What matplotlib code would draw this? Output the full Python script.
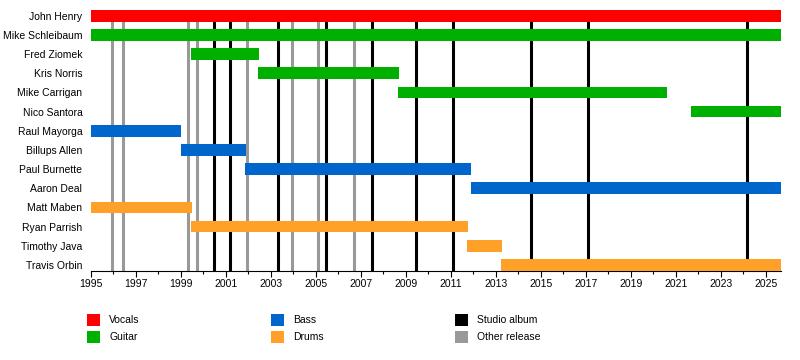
import matplotlib
matplotlib.use("Agg")
import matplotlib.pyplot as plt
from matplotlib.patches import Rectangle

plt.rcParams['font.family'] = ['Liberation Sans', 'DejaVu Sans']

members = ["John Henry", "Mike Schleibaum", "Fred Ziomek", "Kris Norris",
           "Mike Carrigan", "Nico Santora", "Raul Mayorga", "Billups Allen",
           "Paul Burnette", "Aaron Deal", "Matt Maben", "Ryan Parrish",
           "Timothy Java", "Travis Orbin"]
starts = [1995.0, 1995.0, 1999.46, 2002.45, 2008.67, 2021.68, 1995.0, 1999.0,
          2001.86, 2011.9, 1995.0, 1999.46, 2011.73, 2013.24]
END = 2025.68
ends = [END, END, 2002.48, 2008.7, 2020.6, END, 1999.0, 2001.9,
        2011.9, END, 1999.5, 2011.77, 2013.28, END]
roles = ["Vocals", "Guitar", "Guitar", "Guitar", "Guitar", "Guitar", "Bass", "Bass",
         "Bass", "Bass", "Drums", "Drums", "Drums", "Drums"]

studio_albums = [2000.49, 2001.2, 2003.34, 2005.47, 2007.52, 2009.46,
                 2011.12, 2014.58, 2017.12, 2024.16]
other_releases = [1995.96, 1996.45, 1999.34, 1999.71, 2001.96, 2003.96,
                  2005.12, 2006.72]

role_colors = {"Vocals": "#FF0000", "Guitar": "#00B000",
               "Bass": "#0066CC", "Drums": "#FFA028"}
line_colors = {"Studio album": "#000000", "Other release": "#999999"}

fig = plt.figure(figsize=(8, 3.6), dpi=100)
W, H = 800, 360
ax = fig.add_axes([90.7 / W, 1 - 270.7 / H, (781 - 90.7) / W, (270.7 - 10) / H])

bar_h = 0.61
for i, (s, e, r) in enumerate(zip(starts, ends, roles)):
    ax.barh(i, e - s, left=s, height=bar_h, color=role_colors[r], zorder=3)

for x in other_releases:
    ax.axvline(x, color=line_colors["Other release"], lw=2.2, zorder=1)
for x in studio_albums:
    ax.axvline(x, color=line_colors["Studio album"], lw=2.2, zorder=2)

ax.set_xlim(1995, END)
ax.set_ylim(len(members) - 1 + bar_h / 2, -bar_h / 2)
ax.set_yticks(range(len(members)))
ax.set_yticklabels(members, fontsize=7.5)
ax.tick_params(axis='y', length=0, pad=6)

ax.set_xticks(range(1995, 2026, 2))
ax.set_xticks(range(1995, 2026, 1), minor=True)
ax.set_xticklabels([str(y) for y in range(1995, 2026, 2)], fontsize=7.5)
ax.tick_params(axis='x', which='major', length=4, width=0.8, pad=2)
ax.tick_params(axis='x', which='minor', length=2.5, width=0.8)

for sp in ["top", "right", "left"]:
    ax.spines[sp].set_visible(False)
ax.spines["bottom"].set_linewidth(0.8)

# legend
legend_items = [("Vocals", role_colors["Vocals"], 87, 320),
                ("Guitar", role_colors["Guitar"], 87, 337),
                ("Bass", role_colors["Bass"], 271, 320),
                ("Drums", role_colors["Drums"], 271, 337),
                ("Studio album", line_colors["Studio album"], 455, 320),
                ("Other release", line_colors["Other release"], 455, 337)]
sq = 12.5
for label, col, px, py in legend_items:
    fig.patches.append(Rectangle((px / W, 1 - (py + sq / 2) / H), sq / W, sq / H,
                                 transform=fig.transFigure, facecolor=col,
                                 edgecolor='none'))
    fig.text((px + 22) / W, 1 - py / H, label, fontsize=7.5, va='center', ha='left')

fig.savefig("out.png", dpi=100)
